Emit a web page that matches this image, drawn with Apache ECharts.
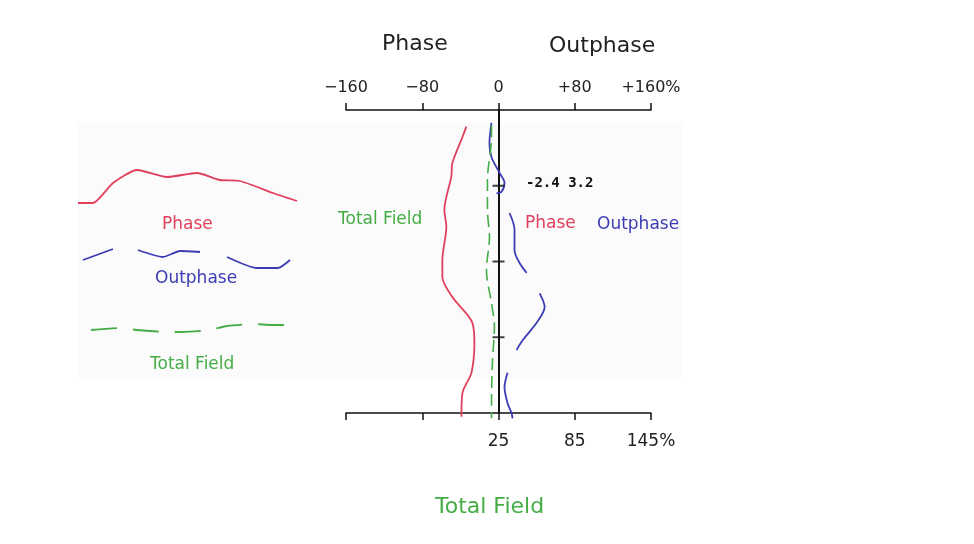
<!DOCTYPE html>
<html>
<head>
<meta charset="utf-8">
<script src="https://cdn.jsdelivr.net/npm/echarts@6/dist/echarts.min.js"></script>
<style>
html,body{margin:0;padding:0;background:#fff;}
#chart{width:974px;height:544px;}
</style>
</head>
<body>
<div id="chart"></div>
<script>
// ---- Main profile data: [percent, depth] ----
var phaseProfile = [
  [-33.7,0.22],[-37.9,0.36],[-48.4,0.70],[-49.5,0.88],[-56.8,1.32],[-54.7,1.54],
  [-58.9,1.98],[-58.9,2.20],[-48.4,2.47],[-27.4,2.81],[-25.3,3.08],[-28.4,3.47],
  [-37.9,3.74],[-38.9,4.05]
];
var outphaseProfile = [
  [-7.4,0.17],[-9.5,0.44],[-7.4,0.62],[1.1,0.83],[6.3,0.96],[3.2,1.08],[-2.1,1.10],
  null,
  [11.6,1.36],[16.8,1.58],[16.8,1.85],[22.1,2.02],[29.5,2.15],
  null,
  [43.2,2.42],[48.4,2.60],[40.0,2.81],[25.3,3.04],[18.9,3.17],
  null,
  [9.5,3.47],[6.3,3.66],[9.5,3.87],[13.7,4.0],[14.7,4.07]
];
// total field, in % of the bottom scale
var totalFieldProfile = [
  [19.5,0.20],[19.5,0.36],[16.3,0.92],[16.3,1.32],[17.9,1.68],[15.5,2.11],
  [19.5,2.55],[21.8,2.86],[20.3,3.30],[19.5,3.87],[19.5,4.07]
];
var centerTickDepths = [1, 2, 3];
var topTickLabels = {'-160':'\u2212160','-80':'\u221280','0':'0','80':'+80','160':'+160%'};
var bottomOffset = 25;           // bottom scale value at the centre line
var bottomTickLabels = {'25':'25','85':'85','145':'145%'};

// ---- Legend-panel sample traces: [station, amplitude] ----
var legendPhase = [
  [0,13.7],[1.5,13.7],[3.5,15.7],[5.9,17.0],[8.9,16.3],[11.9,16.7],[14.2,16.0],
  [16.2,15.9],[19.5,14.7],[21.9,13.9]
];
var legendOutphase = [
  [0.5,8.0],[3.5,9.1],null,[6.0,9.0],[8.5,8.3],[10.2,8.9],[12.2,8.8],null,
  [14.9,8.3],[17.9,7.2],[20.0,7.2],[21.2,8.0]
];
var legendTotalField = [
  [1.3,1.0],[4.2,1.2],[5.9,1.0],[8.9,0.8],[10.4,0.8],[13.2,1.0],[14.9,1.4],
  [17.5,1.6],[19.4,1.5],[21.9,1.5]
];

var RED = '#e0405c', BLUE = '#3c3cb4', GREEN = '#45ad45';
var FONT = 'DejaVu Sans';

function fix(arr){ return arr.map(function(p){ return p === null ? ['-','-'] : p; }); }

var chart = echarts.init(document.getElementById('chart'), null, {renderer:'canvas'});
chart.setOption({
  backgroundColor: '#ffffff',
  animation: false,
  textStyle: {fontFamily: FONT},
  grid: [
    {left: 346, right: 323, top: 110, bottom: 131, containLabel: false},
    {left: 78, right: 676, top: 160, bottom: 204, containLabel: false}
  ],
  xAxis: [
    {
      gridIndex: 0, type: 'value', position: 'top', min: -160, max: 160, interval: 80,
      axisLine: {show: true, onZero: false, lineStyle: {color: '#111', width: 1.5}},
      axisTick: {show: true, length: 7, lineStyle: {color: '#111', width: 1.5}},
      axisLabel: {show: true, margin: 14, fontSize: 16, color: '#222', fontFamily: FONT,
        formatter: function(v){ return topTickLabels[String(v)] || ''; }},
      splitLine: {show: false}
    },
    {
      gridIndex: 0, type: 'value', position: 'bottom', min: -120, max: 120, interval: 60,
      axisLine: {show: true, onZero: false, lineStyle: {color: '#111', width: 1.5}},
      axisTick: {show: true, length: 7, lineStyle: {color: '#111', width: 1.5}},
      axisLabel: {show: true, margin: 20, fontSize: 17, color: '#222', fontFamily: FONT,
        formatter: function(v){ return bottomTickLabels[String(v + bottomOffset)] || ''; }},
      splitLine: {show: false}
    },
    {
      gridIndex: 1, type: 'value', min: 0, max: 22, show: false
    }
  ],
  yAxis: [
    {
      gridIndex: 0, type: 'value', min: 0, max: 4, inverse: true,
      axisLine: {show: true, onZero: true, onZeroAxisIndex: 0, lineStyle: {color: '#111', width: 2}},
      axisTick: {show: false}, axisLabel: {show: false}, splitLine: {show: false}
    },
    {
      gridIndex: 1, type: 'value', min: 0, max: 18, show: false
    }
  ],
  graphic: [
    {type:'rect', z: -10, silent: true, shape:{x:78, y:123, width:604, height:257}, style:{fill:'#fbfbfb'}},
    {type:'text', left: 382, top: 33, style:{text:'Phase', font:'22px "DejaVu Sans"', fill:'#222'}},
    {type:'text', left: 549, top: 35, style:{text:'Outphase', font:'22px "DejaVu Sans"', fill:'#222'}},
    {type:'text', left: 338, top: 211, style:{text:'Total Field', font:'17px "DejaVu Sans"', fill:GREEN}},
    {type:'text', left: 525, top: 215, style:{text:'Phase', font:'17px "DejaVu Sans"', fill:RED}},
    {type:'text', left: 597, top: 216, style:{text:'Outphase', font:'17px "DejaVu Sans"', fill:BLUE}},
    {type:'text', left: 526, top: 176, style:{text:'-2.4 3.2', font:'bold 14px "DejaVu Sans Mono"', fill:'#111'}},
    {type:'text', left: 162, top: 216, style:{text:'Phase', font:'17px "DejaVu Sans"', fill:RED}},
    {type:'text', left: 155, top: 270, style:{text:'Outphase', font:'17px "DejaVu Sans"', fill:BLUE}},
    {type:'text', left: 150, top: 356, style:{text:'Total Field', font:'17px "DejaVu Sans"', fill:GREEN}},
    {type:'text', left: 435, top: 496, style:{text:'Total Field', font:'22px "DejaVu Sans"', fill:GREEN}}
  ],
  series: [
    {type:'line', xAxisIndex:0, yAxisIndex:0, data: phaseProfile, showSymbol:false, clip:false,
      lineStyle:{color:RED, width:1.8}, smooth:0.3},
    {type:'line', xAxisIndex:0, yAxisIndex:0, data: fix(outphaseProfile), showSymbol:false, clip:false,
      connectNulls:false, lineStyle:{color:BLUE, width:1.8}, smooth:0.3},
    {type:'line', xAxisIndex:1, yAxisIndex:0, clip:false, showSymbol:false,
      data: totalFieldProfile.map(function(p){ return [p[0] - bottomOffset, p[1]]; }),
      lineStyle:{color:GREEN, width:1.6, type:[12,6]}, smooth:0.3},
    {type:'scatter', xAxisIndex:0, yAxisIndex:0, symbol:'rect', symbolSize:[12,2], silent:true,
      data: centerTickDepths.map(function(d){ return [0, d]; }), itemStyle:{color:'#111'}, z:5},
    {type:'line', xAxisIndex:2, yAxisIndex:1, data: legendPhase, showSymbol:false,
      lineStyle:{color:RED, width:1.8}, smooth:0.2},
    {type:'line', xAxisIndex:2, yAxisIndex:1, data: fix(legendOutphase), showSymbol:false,
      connectNulls:false, lineStyle:{color:BLUE, width:1.8}, smooth:0.2},
    {type:'line', xAxisIndex:2, yAxisIndex:1, data: legendTotalField, showSymbol:false,
      lineStyle:{color:GREEN, width:1.8, type:[26,16]}, smooth:0.2}
  ]
});
</script>
</body>
</html>
